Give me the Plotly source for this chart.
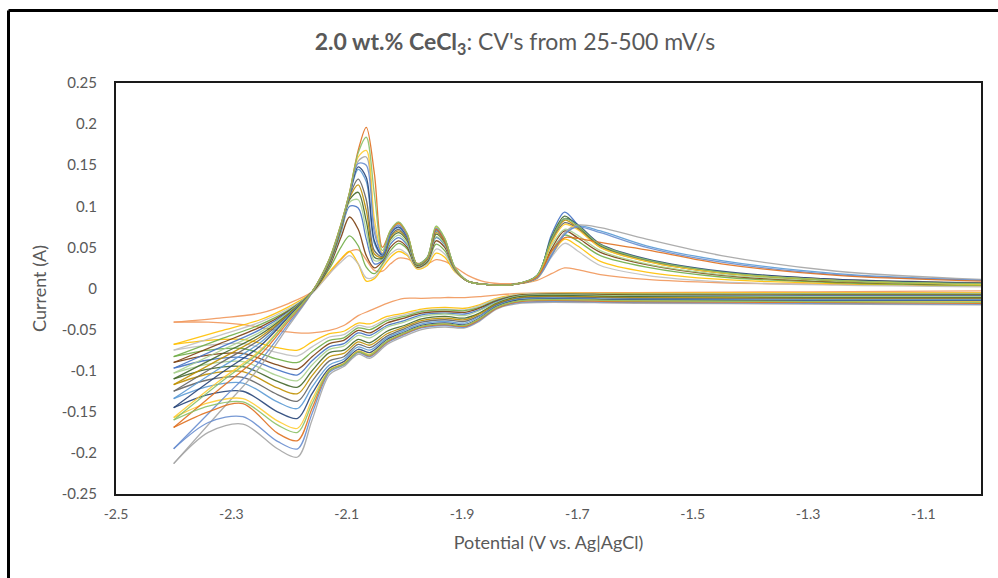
import plotly.graph_objects as go

# Potential grids (V vs. Ag|AgCl) for the two sweep directions
E_cathodic = [-1.00, -1.30, -1.60, -1.80, -1.84, -1.87, -1.895, -1.93, -1.97, -2.00, -2.03,
              -2.06, -2.08, -2.105, -2.13, -2.16, -2.185, -2.22, -2.28, -2.34, -2.40]
E_anodic = [-2.40, -2.32, -2.25, -2.20, -2.16, -2.13, -2.11, -2.095, -2.08, -2.066, -2.052,
            -2.038, -2.024, -2.010, -1.995, -1.978, -1.960, -1.945, -1.930, -1.912, -1.89,
            -1.86, -1.81, -1.77, -1.745, -1.722, -1.70, -1.66, -1.58, -1.45, -1.25, -1.00]

# Current (A), cathodic sweep, one list per scan
cath_0 = [-0.003, -0.004, -0.005, -0.006, -0.008, -0.010, -0.011, -0.011, -0.012, -0.012, -0.018, -0.027, -0.033, -0.045, -0.051, -0.054, -0.054, -0.051, -0.044, -0.041, -0.041]
cath_1 = [-0.005, -0.005, -0.006, -0.007, -0.012, -0.020, -0.024, -0.023, -0.025, -0.030, -0.034, -0.043, -0.042, -0.052, -0.055, -0.065, -0.075, -0.072, -0.062, -0.063, -0.068]
cath_2 = [-0.006, -0.006, -0.007, -0.007, -0.013, -0.021, -0.026, -0.025, -0.027, -0.032, -0.037, -0.047, -0.045, -0.056, -0.059, -0.071, -0.082, -0.078, -0.067, -0.069, -0.075]
cath_3 = [-0.007, -0.007, -0.007, -0.008, -0.014, -0.023, -0.027, -0.026, -0.028, -0.034, -0.039, -0.050, -0.048, -0.060, -0.063, -0.077, -0.090, -0.086, -0.073, -0.075, -0.083]
cath_4 = [-0.008, -0.008, -0.008, -0.008, -0.015, -0.024, -0.029, -0.028, -0.030, -0.036, -0.042, -0.054, -0.051, -0.063, -0.067, -0.083, -0.098, -0.093, -0.079, -0.081, -0.090]
cath_5 = [-0.009, -0.009, -0.009, -0.009, -0.016, -0.026, -0.031, -0.030, -0.032, -0.039, -0.045, -0.057, -0.054, -0.067, -0.071, -0.088, -0.105, -0.099, -0.084, -0.087, -0.097]
cath_6 = [-0.010, -0.010, -0.009, -0.009, -0.017, -0.027, -0.033, -0.031, -0.034, -0.041, -0.047, -0.060, -0.057, -0.070, -0.074, -0.093, -0.112, -0.106, -0.089, -0.092, -0.103]
cath_7 = [-0.011, -0.011, -0.010, -0.010, -0.018, -0.030, -0.036, -0.034, -0.037, -0.045, -0.052, -0.066, -0.062, -0.075, -0.078, -0.100, -0.120, -0.113, -0.095, -0.098, -0.110]
cath_8 = [-0.012, -0.012, -0.011, -0.011, -0.019, -0.031, -0.038, -0.036, -0.039, -0.047, -0.055, -0.069, -0.065, -0.079, -0.083, -0.106, -0.128, -0.121, -0.101, -0.104, -0.117]
cath_9 = [-0.013, -0.013, -0.012, -0.012, -0.020, -0.033, -0.040, -0.038, -0.041, -0.049, -0.058, -0.072, -0.068, -0.083, -0.088, -0.113, -0.137, -0.129, -0.108, -0.111, -0.125]
cath_10 = [-0.014, -0.014, -0.013, -0.013, -0.021, -0.034, -0.042, -0.040, -0.043, -0.051, -0.060, -0.075, -0.071, -0.086, -0.093, -0.120, -0.146, -0.138, -0.115, -0.119, -0.134]
cath_11 = [-0.015, -0.015, -0.014, -0.014, -0.022, -0.036, -0.044, -0.042, -0.045, -0.053, -0.062, -0.078, -0.074, -0.089, -0.097, -0.128, -0.158, -0.150, -0.125, -0.129, -0.145]
cath_12 = [-0.020, -0.019, -0.018, -0.018, -0.025, -0.040, -0.048, -0.047, -0.050, -0.058, -0.068, -0.085, -0.080, -0.095, -0.105, -0.160, -0.205, -0.195, -0.165, -0.175, -0.213]
cath_13 = [-0.016, -0.016, -0.015, -0.015, -0.023, -0.037, -0.045, -0.043, -0.046, -0.054, -0.064, -0.080, -0.076, -0.091, -0.099, -0.135, -0.170, -0.161, -0.134, -0.139, -0.157]
cath_14 = [-0.019, -0.018, -0.017, -0.017, -0.024, -0.039, -0.047, -0.045, -0.048, -0.056, -0.066, -0.083, -0.078, -0.093, -0.102, -0.152, -0.195, -0.186, -0.156, -0.163, -0.195]
cath_15 = [-0.018, -0.017, -0.016, -0.016, -0.024, -0.038, -0.046, -0.044, -0.047, -0.055, -0.065, -0.082, -0.077, -0.092, -0.100, -0.146, -0.185, -0.176, -0.140, -0.150, -0.169]
cath_16 = [-0.017, -0.016, -0.015, -0.015, -0.023, -0.037, -0.045, -0.043, -0.046, -0.054, -0.064, -0.081, -0.077, -0.092, -0.100, -0.140, -0.175, -0.166, -0.138, -0.143, -0.160]

# Current (A), anodic (return) sweep, one list per scan
anod_0 = [-0.041, -0.036, -0.030, -0.018, -0.004, 0.018, 0.035, 0.045, 0.047, 0.035, 0.022, 0.021, 0.030, 0.037, 0.036, 0.031, 0.030, 0.035, 0.033, 0.026, 0.016, 0.008, 0.006, 0.010, 0.018, 0.025, 0.023, 0.017, 0.011, 0.007, 0.005, 0.003]
anod_1 = [-0.068, -0.052, -0.038, -0.022, -0.005, 0.020, 0.036, 0.045, 0.030, 0.009, 0.012, 0.025, 0.038, 0.045, 0.040, 0.024, 0.028, 0.043, 0.038, 0.020, 0.009, 0.005, 0.005, 0.012, 0.040, 0.060, 0.052, 0.033, 0.020, 0.011, 0.006, 0.004]
anod_2 = [-0.075, -0.057, -0.041, -0.024, -0.006, 0.018, 0.032, 0.040, 0.030, 0.013, 0.014, 0.028, 0.042, 0.048, 0.042, 0.025, 0.030, 0.048, 0.042, 0.021, 0.009, 0.005, 0.005, 0.012, 0.038, 0.055, 0.046, 0.028, 0.016, 0.008, 0.004, 0.002]
anod_3 = [-0.083, -0.062, -0.044, -0.026, -0.005, 0.024, 0.050, 0.064, 0.052, 0.026, 0.018, 0.030, 0.046, 0.055, 0.048, 0.026, 0.032, 0.054, 0.046, 0.022, 0.009, 0.005, 0.005, 0.013, 0.045, 0.065, 0.058, 0.040, 0.026, 0.014, 0.007, 0.004]
anod_4 = [-0.090, -0.067, -0.047, -0.027, -0.005, 0.027, 0.062, 0.087, 0.072, 0.040, 0.025, 0.033, 0.050, 0.058, 0.050, 0.026, 0.033, 0.058, 0.050, 0.023, 0.009, 0.005, 0.005, 0.013, 0.048, 0.070, 0.062, 0.044, 0.029, 0.016, 0.008, 0.005]
anod_5 = [-0.097, -0.072, -0.050, -0.028, -0.004, 0.029, 0.068, 0.100, 0.098, 0.060, 0.030, 0.034, 0.054, 0.062, 0.053, 0.027, 0.034, 0.062, 0.053, 0.023, 0.009, 0.005, 0.005, 0.014, 0.065, 0.093, 0.078, 0.052, 0.034, 0.019, 0.010, 0.006]
anod_6 = [-0.103, -0.076, -0.053, -0.029, -0.004, 0.030, 0.070, 0.105, 0.108, 0.070, 0.034, 0.036, 0.057, 0.065, 0.055, 0.027, 0.035, 0.063, 0.054, 0.023, 0.009, 0.005, 0.005, 0.014, 0.052, 0.072, 0.065, 0.046, 0.030, 0.017, 0.009, 0.005]
anod_7 = [-0.110, -0.081, -0.056, -0.030, -0.004, 0.031, 0.072, 0.108, 0.117, 0.082, 0.038, 0.037, 0.060, 0.068, 0.058, 0.028, 0.036, 0.066, 0.056, 0.024, 0.009, 0.005, 0.005, 0.015, 0.062, 0.088, 0.076, 0.052, 0.035, 0.020, 0.010, 0.006]
anod_8 = [-0.117, -0.086, -0.059, -0.031, -0.004, 0.032, 0.073, 0.110, 0.126, 0.095, 0.042, 0.038, 0.062, 0.070, 0.060, 0.028, 0.036, 0.068, 0.057, 0.024, 0.009, 0.005, 0.005, 0.015, 0.058, 0.083, 0.074, 0.050, 0.033, 0.019, 0.010, 0.006]
anod_9 = [-0.125, -0.091, -0.062, -0.032, -0.004, 0.033, 0.074, 0.112, 0.133, 0.108, 0.046, 0.039, 0.064, 0.072, 0.061, 0.029, 0.037, 0.070, 0.058, 0.024, 0.009, 0.005, 0.005, 0.015, 0.056, 0.080, 0.073, 0.051, 0.034, 0.020, 0.011, 0.007]
anod_10 = [-0.134, -0.097, -0.066, -0.033, -0.004, 0.034, 0.075, 0.113, 0.145, 0.130, 0.055, 0.040, 0.066, 0.074, 0.062, 0.029, 0.037, 0.070, 0.058, 0.024, 0.009, 0.005, 0.005, 0.013, 0.040, 0.066, 0.076, 0.070, 0.052, 0.034, 0.018, 0.010]
anod_11 = [-0.145, -0.104, -0.070, -0.034, -0.004, 0.035, 0.076, 0.114, 0.148, 0.135, 0.058, 0.041, 0.067, 0.075, 0.063, 0.029, 0.038, 0.072, 0.059, 0.024, 0.009, 0.005, 0.005, 0.016, 0.060, 0.085, 0.078, 0.054, 0.036, 0.021, 0.011, 0.006]
anod_12 = [-0.213, -0.150, -0.095, -0.045, -0.005, 0.035, 0.077, 0.116, 0.155, 0.160, 0.075, 0.042, 0.069, 0.078, 0.065, 0.030, 0.038, 0.074, 0.060, 0.025, 0.009, 0.005, 0.005, 0.013, 0.042, 0.068, 0.077, 0.074, 0.060, 0.040, 0.021, 0.011]
anod_13 = [-0.157, -0.112, -0.075, -0.036, -0.004, 0.035, 0.077, 0.116, 0.160, 0.168, 0.085, 0.043, 0.070, 0.079, 0.066, 0.030, 0.038, 0.075, 0.061, 0.025, 0.009, 0.005, 0.005, 0.015, 0.055, 0.078, 0.072, 0.050, 0.033, 0.019, 0.010, 0.005]
anod_14 = [-0.195, -0.138, -0.088, -0.042, -0.005, 0.035, 0.076, 0.115, 0.152, 0.150, 0.068, 0.042, 0.068, 0.077, 0.064, 0.030, 0.038, 0.073, 0.060, 0.025, 0.009, 0.005, 0.005, 0.013, 0.040, 0.066, 0.075, 0.068, 0.050, 0.032, 0.017, 0.010]
anod_15 = [-0.169, -0.122, -0.081, -0.039, -0.004, 0.036, 0.078, 0.117, 0.168, 0.196, 0.140, 0.050, 0.070, 0.080, 0.066, 0.030, 0.037, 0.072, 0.058, 0.024, 0.009, 0.005, 0.005, 0.014, 0.045, 0.062, 0.061, 0.056, 0.047, 0.030, 0.016, 0.009]
anod_16 = [-0.160, -0.115, -0.077, -0.037, -0.004, 0.036, 0.078, 0.117, 0.165, 0.184, 0.115, 0.046, 0.071, 0.081, 0.067, 0.030, 0.038, 0.076, 0.061, 0.025, 0.009, 0.005, 0.005, 0.016, 0.060, 0.085, 0.077, 0.053, 0.035, 0.020, 0.010, 0.006]

scan_colors = ["#F1975A", "#FFC000", "#BFBFBF", "#70AD47", "#7B3F10", "#4472C4", "#A9D18E",
               "#43682B", "#BF9000", "#636363", "#5B9BD5", "#264478", "#A5A5A5", "#FFCD33",
               "#698ED0", "#E0701F", "#8CC168"]

cathodic_sweeps = [cath_0, cath_1, cath_2, cath_3, cath_4, cath_5, cath_6, cath_7, cath_8,
                   cath_9, cath_10, cath_11, cath_12, cath_13, cath_14, cath_15, cath_16]
anodic_sweeps = [anod_0, anod_1, anod_2, anod_3, anod_4, anod_5, anod_6, anod_7, anod_8,
                 anod_9, anod_10, anod_11, anod_12, anod_13, anod_14, anod_15, anod_16]

x_tick_vals = [-2.5, -2.3, -2.1, -1.9, -1.7, -1.5, -1.3, -1.1]
x_tick_text = ["-2.5", "-2.3", "-2.1", "-1.9", "-1.7", "-1.5", "-1.3", "-1.1"]
y_tick_vals = [0.25, 0.2, 0.15, 0.1, 0.05, 0, -0.05, -0.1, -0.15, -0.2, -0.25]
y_tick_text = ["0.25", "0.2", "0.15", "0.1", "0.05", "0", "-0.05", "-0.1", "-0.15", "-0.2", "-0.25"]

W, H = 998, 578
M_L, M_R, M_T, M_B = 116, 17, 83, 84
GRAY = "#595959"
FONT = "Lato, 'Open Sans', sans-serif"

fig = go.Figure()
for color, cath, anod in zip(scan_colors, cathodic_sweeps, anodic_sweeps):
    for xs, ys in ((E_cathodic, cath), (E_anodic, anod)):
        fig.add_trace(go.Scatter(
            x=xs, y=ys, mode="lines",
            line=dict(color=color, width=1.3, shape="spline", smoothing=0.9),
            opacity=0.9, showlegend=False, hoverinfo="skip"))

# outer frame lines (top and left), given in pixels and converted to paper units
def px_to_paper_x(px):
    return (px - M_L) / (W - M_L - M_R)

def px_to_paper_y(py):
    return (H - M_B - py) / (H - M_T - M_B)

frame_x = px_to_paper_x(8.5)
frame_y = px_to_paper_y(10.5)
fig.add_shape(type="line", xref="paper", yref="paper", x0=frame_x, x1=px_to_paper_x(1005),
              y0=frame_y, y1=frame_y, line=dict(color="black", width=3))
fig.add_shape(type="line", xref="paper", yref="paper", x0=frame_x, x1=frame_x,
              y0=frame_y, y1=px_to_paper_y(590), line=dict(color="black", width=3))

fig.update_layout(
    width=W, height=H,
    margin=dict(l=M_L, r=M_R, t=M_T, b=M_B),
    paper_bgcolor="white", plot_bgcolor="white",
    font=dict(family=FONT, color=GRAY, size=14),
    title=dict(
        text="<b>2.0 wt.% CeCl<sub>3</sub></b>: CV's from 25-500 mV/s",
        x=515 / W, xref="container", xanchor="center",
        y=1 - 42 / H, yref="container", yanchor="middle",
        font=dict(family=FONT, size=23, color=GRAY)),
    xaxis=dict(
        range=[-2.5, -1.0], tickvals=x_tick_vals, ticktext=x_tick_text,
        showgrid=False, zeroline=False, showline=True, mirror=True,
        linecolor="#1a1a1a", linewidth=2, ticks="", ticklabelstandoff=6,
        tickfont=dict(size=14, color=GRAY),
        title=dict(text="Potential (V vs. Ag|AgCl)", standoff=16,
                   font=dict(size=18, color=GRAY))),
    yaxis=dict(
        range=[-0.25, 0.25], tickvals=y_tick_vals, ticktext=y_tick_text,
        showgrid=False, zeroline=False, showline=True, mirror=True,
        linecolor="#1a1a1a", linewidth=2, ticks="", ticklabelstandoff=14,
        tickfont=dict(size=15, color=GRAY),
        title=dict(text="Current (A)", standoff=10,
                   font=dict(size=18, color=GRAY))),
)

fig.write_html("out.html")
